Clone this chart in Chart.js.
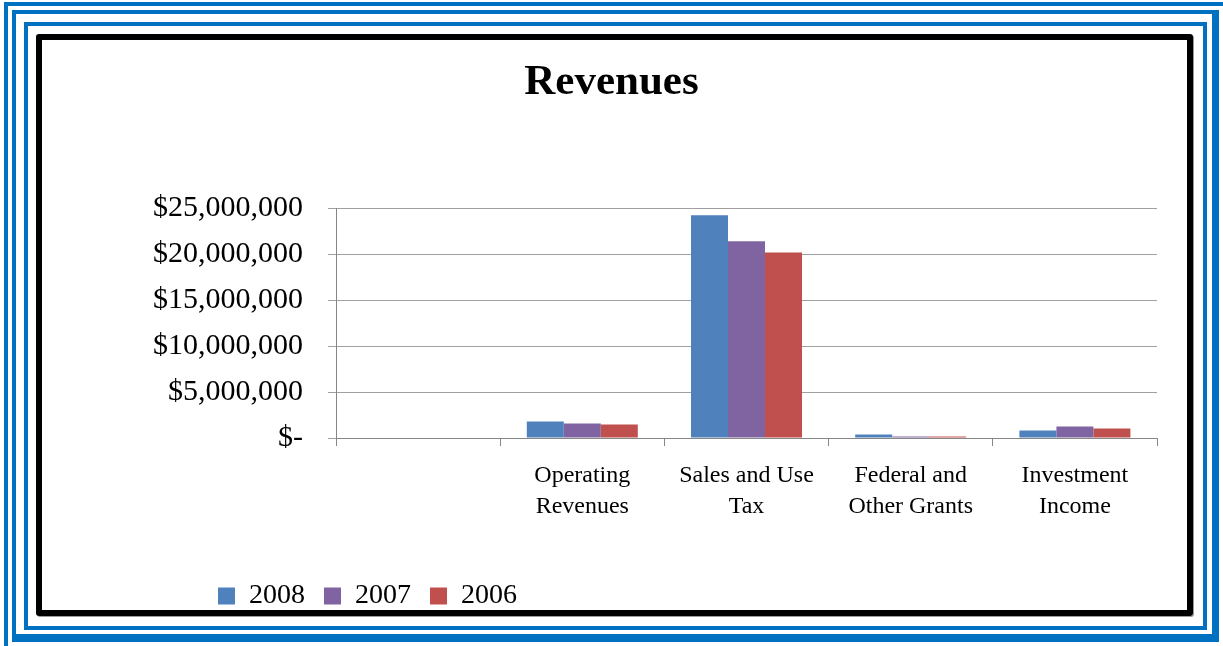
<!DOCTYPE html>
<html>
<head>
<meta charset="utf-8">
<title>Revenues</title>
<script src="https://cdn.jsdelivr.net/npm/chart.js@4.4.1/dist/chart.umd.min.js"></script>
<style>
	html, body { margin: 0; padding: 0; background: #fff; }
	#page { position: relative; width: 1223px; height: 646px; overflow: hidden; background: #fff; }
	.frame { position: absolute; box-sizing: border-box; border-style: solid; border-color: #0070c0; }
	/* outer L-shaped stripe (runs off the right and bottom edges) */
	#stripeA { left: 4px; top: 2px; right: -20px; bottom: -20px; border-width: 4px 0 0 4px; }
	#stripeB { left: 12px; top: 10px; width: 1207px; height: 632px; border-width: 4px 7px 8px 4px; }
	#stripeC { left: 24px; top: 22px; width: 1183px; height: 608px; border-width: 4px; }
	#inner { left: 36px; top: 34px; width: 1157px; height: 582px; border-width: 6px; border-color: #000; border-radius: 3px; box-shadow: 1px 1px 0 #9a9a9a; }
	#revenuesChart { position: absolute; left: 0; top: 0; z-index: 2; }
</style>
</head>
<body>
<div id="page">
	<div class="frame" id="stripeA"></div>
	<div class="frame" id="stripeB"></div>
	<div class="frame" id="stripeC"></div>
	<div class="frame" id="inner"></div>
	<canvas id="revenuesChart" width="1223" height="646"></canvas>
</div>
<script>
// categories (first slot is an empty category, as in the source workbook)
const categories = [
	"",
	["Operating", "Revenues"],
	["Sales and Use", "Tax"],
	["Federal and", "Other Grants"],
	["Investment", "Income"],
];

// revenue by source, in dollars
const rev2008 = [null, 1800000, 24270000, 380000, 820000];
const rev2007 = [null, 1580000, 21430000, 160000, 1260000];
const rev2006 = [null, 1480000, 20220000, 160000, 1040000];

const yTicks = [0, 5000000, 10000000, 15000000, 20000000, 25000000];

const serif = "'Liberation Serif', 'Times New Roman', serif";
const gridGrey = "#a0a0a0";
const axisGrey = "#868686";

// centre the title on the whole page and start the legend under the y labels
const boxShift = {
	id: "boxShift",
	afterLayout(chart) {
		const lg = chart.legend;
		if (lg) lg.left = 218 - lg.options.labels.padding;
		const tb = chart.titleBlock;
		if (tb) {
			tb.left = 66;
			tb.right = 1157;
		}
	},
};

const ctx = document.getElementById("revenuesChart").getContext("2d");
const revenuesChart = new Chart(ctx, {
	type: "bar",
	data: {
		labels: categories,
		datasets: [
			{ label: "2008", data: rev2008, backgroundColor: "#4f81bd" },
			{ label: "2007", data: rev2007, backgroundColor: "#8064a2" },
			{ label: "2006", data: rev2006, backgroundColor: "#c0504d" },
		],
	},
	options: {
		responsive: false,
		animation: false,
		categoryPercentage: 0.676,
		barPercentage: 1,
		layout: { padding: { left: 0, right: 66, top: 0, bottom: 26 } },
		scales: {
			x: {
				grid: {
					offset: true,
					drawOnChartArea: false,
					drawTicks: true,
					tickLength: 8,
					color: axisGrey,
				},
				border: { color: axisGrey, width: 1 },
				ticks: {
					color: "#000",
					padding: 14,
					maxRotation: 0,
					autoSkip: false,
					font: { family: serif, size: 24, lineHeight: 1.3 },
				},
				afterFit: (scale) => {
					scale.height = 125;
				},
			},
			y: {
				min: 0,
				max: 25000000,
				afterBuildTicks: (scale) => {
					scale.ticks = yTicks.map((v) => ({ value: v }));
				},
				grid: { color: gridGrey, tickLength: 8, drawTicks: true },
				border: { color: axisGrey, width: 1 },
				ticks: {
					color: "#000",
					padding: 25,
					font: { family: serif, size: 30 },
					callback: (v) => (v === 0 ? "$-" : "$" + v.toLocaleString("en-US")),
				},
				afterFit: (scale) => {
					scale.width = 336;
				},
			},
		},
		plugins: {
			title: {
				display: true,
				text: "Revenues",
				color: "#000",
				font: { family: serif, size: 43, weight: "bold" },
				padding: { top: 57, bottom: 100 },
			},
			legend: {
				position: "bottom",
				align: "start",
				labels: {
					color: "#000",
					boxWidth: 17,
					boxHeight: 17,
					padding: 19,
					font: { family: serif, size: 28 },
				},
			},
			tooltip: { enabled: false },
		},
	},
	plugins: [boxShift],
});
</script>
</body>
</html>
